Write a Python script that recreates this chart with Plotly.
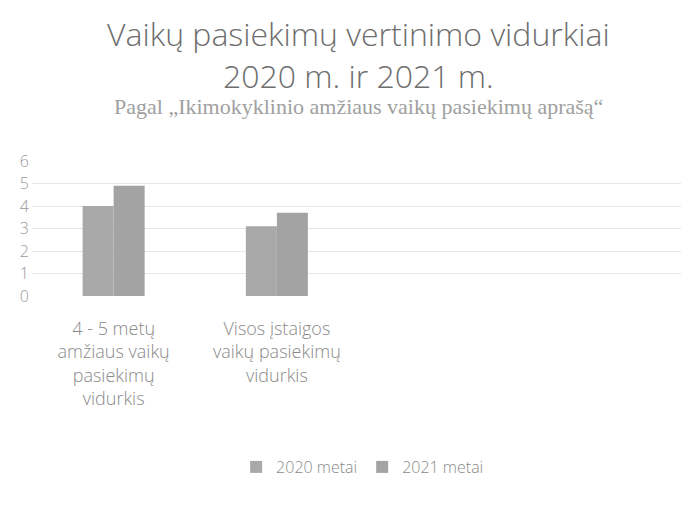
import plotly.graph_objects as go

categories = ["4 - 5 metų<br>amžiaus vaikų<br>pasiekimų<br>vidurkis",
              "Visos įstaigos<br>vaikų pasiekimų<br>vidurkis", " ", "  "]
values_2020 = [4.0, 3.1, None, None]
values_2021 = [4.9, 3.7, None, None]
series_names = ["2020 metai", "2021 metai"]
y_ticks = [0, 1, 2, 3, 4, 5, 6]

FONT = "Open Sans"
OFF = 8  # page body margin offset
L, R, T, B = 18, 12, 153, 217
PW = 689 - L - R
PH = 505 - T - B

def px(x):
    return (x - OFF - L) / PW

def py(y):
    return (505 - B - (y - OFF)) / PH

fig = go.Figure()
fig.add_trace(go.Bar(x=categories, y=values_2020, name=series_names[0],
                     marker=dict(color="#a9a9a9", line=dict(width=0))))
fig.add_trace(go.Bar(x=categories, y=values_2021, name=series_names[1],
                     marker=dict(color="#a3a3a3", line=dict(width=0))))

fig.update_layout(
    width=689, height=505,
    paper_bgcolor="white", plot_bgcolor="white",
    margin=dict(l=L, r=R, t=T, b=B),
    barmode="group", bargap=0.62, bargroupgap=0,
    font=dict(family=FONT, color="#8a8a8a", weight=300),
    xaxis=dict(showgrid=False, showline=False, ticks="",
               tickfont=dict(size=18, color="#8a8a8a", family=FONT, weight=300),
               ticklabelstandoff=20),
    yaxis=dict(range=[0, 6], tickvals=y_ticks, showgrid=True, gridcolor="#e6e6e6",
               zeroline=False, showline=False, ticks="",
               tickfont=dict(size=16, color="#9a9a9a", family=FONT, weight=300),
               ticklabelstandoff=2),
    legend=dict(orientation="h", x=px(232), xanchor="left", y=py(467), yanchor="middle",
                itemwidth=30,
                font=dict(size=16, color="#8a8a8a", family=FONT, weight=300)),
    showlegend=True,
    annotations=[
        dict(text="Vaikų pasiekimų vertinimo vidurkiai<br>2020 m. ir 2021 m.",
             xref="paper", yref="paper", x=px(355), y=py(54), yanchor="middle",
             xanchor="center", showarrow=False,
             font=dict(family=FONT, size=32, color="#6e6e6e", weight=300)),
        dict(text="Pagal „Ikimokyklinio amžiaus vaikų pasiekimų aprašą“",
             xref="paper", yref="paper", x=px(355), y=py(106), yanchor="middle",
             xanchor="center", showarrow=False,
             font=dict(family="Liberation Serif", size=22, color="#a0a0a0")),
    ],
)

fig.write_html("out.html")
